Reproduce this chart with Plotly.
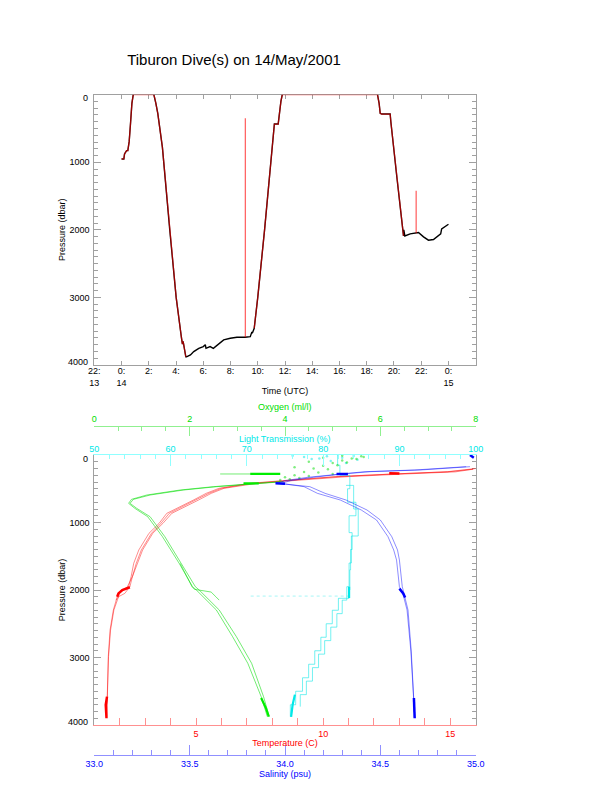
import plotly.graph_objects as go

W, H = 612, 785
OFF = 8  # page body margin in the browser
def px(x): return (x - OFF) / W
def py(y): return 1 - (y - OFF) / H

# ---------------- top plot: dive pressure vs time (hours after 00:00 14 May) ----------------
time_ticks = [-2, 0, 2, 4, 6, 8, 10, 12, 14, 16, 18, 20, 22, 24]
time_labels = ["22:<br>13", "0:<br>14", "2:", "4:", "6:", "8:", "10:", "12:", "14:", "16:", "18:", "20:", "22:", "0:<br>15"]
p_ticks = [0, 1000, 2000, 3000, 4000]
p_labels = ["", "1000", "2000", "3000", ""]   # end labels drawn nudged inward, as in the original

# vehicle pressure (black)
veh_t = [0.0, 0.17, 0.22, 0.37, 0.46, 0.56, 0.66, 0.76, 0.86, None,
         2.37, 2.45, 2.52, 2.66, 3.0, 3.54, 4.01, 4.4, 4.47, 4.52, 4.6, 4.72,
         4.77, 5.06, 5.3, 5.67, 6.0, 6.15, 6.2, 6.5, 6.74, 7.0, 7.2, 7.5, 7.98, 8.47, 9.08, 9.45, 9.57, 9.6, 9.74,
         10.0, 10.5, 11.0, 11.22, 11.5, 11.56, 11.7, 11.8, None,
         18.79, 18.91, 18.99, 19.1, 19.72, 19.77, 20.2, 20.65, 20.7, 20.72, 20.8, 21.19, 21.63, 21.8,
         22.17, 22.53, 22.9, 23.14, 23.43, 23.5, 23.75, 24.0]
veh_p = [951, 951, 877, 828, 828, 695, 423, 128, 0, None,
         0, 60, 128, 276, 780, 2000, 3000, 3600, 3690, 3650, 3760, 3880,
         3880, 3851, 3802, 3753, 3727, 3700, 3753, 3727, 3753, 3710, 3668, 3629, 3604, 3589, 3589, 3580, 3510, 3530, 3456,
         3000, 2000, 960, 434, 434, 300, 100, 0, None,
         0, 128, 276, 286, 286, 400, 1200, 2001, 2090, 2000, 2090, 2060, 2050, 2040,
         2104, 2153, 2143, 2104, 2060, 1986, 1952, 1917]

# second pressure record (red): surface periods, transits and spikes
ctd_t = [0.0, 0.17, 0.22, 0.37, 0.46, 0.56, 0.66, 0.76, 0.86, 2.37, 2.45, 2.52, 2.66, 3.0, 3.54, 4.01, 4.4, 4.47, 4.52, 4.6, 4.72, None,
         9.09, 9.09, None,
         9.74, 10.0, 10.5, 11.0, 11.22, 11.5, 11.56, 11.7, 11.8, 18.79, 18.91, 18.99, 19.1, 19.72, 19.77, 20.2, 20.65, 20.7, None,
         21.63, 21.63]
ctd_p = [951, 951, 877, 828, 828, 695, 423, 128, 0, 0, 60, 128, 276, 780, 2000, 3000, 3600, 3690, 3650, 3760, 3880, None,
         3589, 349, None,
         3456, 3000, 2000, 960, 434, 434, 300, 100, 0, 0, 128, 276, 286, 286, 400, 1200, 2001, 2090, None,
         2050, 1420]

# ---------------- bottom plot: profiles ----------------
temp_p_a = [210, 250, 280, 320, 380, 420, 494, 568, 667, 765, 864, 1012, 1160, 1407, 1605, 1800, 1951, 2000, 2050, 2296, 2593, 2988, 3580, 3877]
temp_a   = [15.9, 14.9, 12.8, 10.5, 8.4, 7.1, 5.9, 5.4, 4.9, 4.4, 3.85, 3.55, 3.15, 2.75, 2.55, 2.45, 2.35, 2.1, 1.94, 1.75, 1.62, 1.55, 1.51, 1.49]
temp_b   = [15.9, 15.2, 13.3, 11.0, 8.8, 7.4, 6.1, 5.6, 5.1, 4.6, 4.05, 3.7, 3.3, 2.9, 2.7, 2.5, 2.3, 2.15, 2.0, 1.77, 1.64, 1.56, 1.51, 1.49]
temp_p_c = [200, 247, 281, 320, 420, 494, 568, 667, 765, 864, 1012, 1160, 1407, 1605, 1800, 1951, 2050, 2100, 2150]
temp_c   = [16.0, 14.9, 12.8, 10.6, 7.2, 6.0, 5.5, 5.0, 4.5, 3.95, 3.62, 3.25, 2.85, 2.65, 2.5, 2.4, 2.2, 1.95, 1.85]
temp_blob_p = [270, 275, None, 1960, 2000, 2050, 2100, None, 3580, 3700, 3900]
temp_blob   = [12.6, 13.0, None, 2.4, 2.1, 1.95, 1.9, None, 1.5, 1.45, 1.48]

sal_p_a = [173, 222, 247, 281, 330, 380, 420, 469, 568, 667, 815, 963, 1210, 1407, 1556, 1951, 2074, 2296, 2904, 3580, 3877]
sal_a   = [34.97, 34.71, 34.45, 34.30, 34.15, 34.03, 33.98, 34.10, 34.17, 34.29, 34.40, 34.48, 34.54, 34.57, 34.585, 34.60, 34.62, 34.64, 34.66, 34.676, 34.68]
sal_b   = [34.95, 34.68, 34.42, 34.28, 34.12, 34.00, 33.96, 34.13, 34.21, 34.32, 34.43, 34.50, 34.56, 34.59, 34.60, 34.615, 34.625, 34.645, 34.662, 34.677, 34.68]
sal_blob_p = [0, 40, None, 281, 281, None, 420, 425, None, 1980, 2050, 2110, None, 3600, 3900]
sal_blob   = [34.97, 34.99, None, 34.27, 34.33, None, 33.95, 34.0, None, 34.6, 34.62, 34.63, None, 34.676, 34.68]

oxy_p_a = [395, 430, 469, 519, 593, 657, 716, 790, 914, 1210, 1605, 1951, 2000, 2296, 2691, 3086, 3580, 3877]
oxy_a   = [3.97, 3.27, 2.57, 1.87, 1.17, 0.82, 0.75, 0.89, 1.17, 1.48, 1.82, 2.12, 2.2, 2.62, 2.98, 3.3, 3.55, 3.67]
oxy_b   = [3.9, 3.2, 2.5, 1.8, 1.1, 0.78, 0.72, 0.85, 1.12, 1.43, 1.78, 2.06, 2.14, 2.56, 2.9, 3.22, 3.5, 3.63]
oxy_p_c = [1605, 1800, 1951, 1990, 2030, 2100, 2150]
oxy_c   = [1.8, 1.95, 2.05, 2.1, 2.45, 2.55, 2.62]
oxy_blob_p = [281, 281, None, 420, 420, None, 3600, 3750, 3877]
oxy_blob   = [3.27, 3.9, None, 3.13, 3.45, None, 3.5, 3.6, 3.66]
oxy_line_p = [281, 281]
oxy_line   = [2.64, 3.27]
oxy_surf_p = [330, 300, 250, 200, 160, 120, 80, 50, 20, 60, 110, 150, 210, 260, 310, 340, 360, 370, 100, 40, 280, 180, 10, 30]
oxy_surf   = [4.0, 4.2, 4.4, 4.6, 4.8, 5.0, 5.2, 5.4, 5.6, 5.5, 5.3, 5.1, 4.9, 4.7, 4.5, 4.3, 4.1, 3.9, 4.5, 4.8, 5.0, 4.2, 5.2, 5.65]

lt_p_a = [3877, 3700, 3500, 3300, 3100, 2900, 2700, 2500, 2300, 2123, 2000, 1700, 1400, 1150, 900, 700, 500, 300, 150, 0]
lt_a   = [75.7, 76.4, 77.3, 78.1, 78.9, 79.7, 80.4, 81.2, 82.0, 83.4, 83.5, 83.6, 83.8, 83.4, 84.3, 83.2, 83.5, 82.2, 81.9, 82.0]
lt_p_b = [3728, 3550, 3350, 3150, 2950, 2750, 2550, 2350, 2150, 1951, 1600, 1200, 800, 450]
lt_b   = [77.0, 77.8, 78.6, 79.4, 80.2, 81.0, 81.8, 82.5, 83.1, 83.4, 83.7, 84.6, 84.0, 83.0]
lt_band_p = [2090, 2090]
lt_band   = [70.5, 83.4]
lt_blob_p = [3880, 3700, 3550, None, 2120, 1950]
lt_blob   = [75.8, 76.0, 76.3, None, 83.4, 83.4]
lt_surf_p = [10, 30, 60, 20, 90, 40, 120, 15, 70, 50]
lt_surf   = [76.0, 77.5, 78.5, 80.5, 81.0, 82.5, 83.0, 84.0, 84.5, 79.5]

fig = go.Figure()

# top plot
fig.add_trace(go.Scatter(x=veh_t, y=veh_p, mode="lines", line=dict(color="black", width=1.4),
                         xaxis="x", yaxis="y", connectgaps=False))
fig.add_trace(go.Scatter(x=ctd_t, y=ctd_p, mode="lines", line=dict(color="rgba(255,0,0,0.6)", width=1.3),
                         xaxis="x", yaxis="y", connectgaps=False))

# bottom plot
RED_L = "rgba(255,0,0,0.45)"
BLU_L = "rgba(0,0,255,0.45)"
GRN_L = "rgba(0,220,0,0.55)"
CYN_L = "rgba(0,230,230,0.55)"

for xs, ys in [(temp_a, temp_p_a), (temp_b, temp_p_a), (temp_c, temp_p_c)]:
    fig.add_trace(go.Scatter(x=xs, y=ys, mode="lines", line=dict(color=RED_L, width=1), xaxis="x2", yaxis="y2"))
fig.add_trace(go.Scatter(x=temp_blob, y=temp_blob_p, mode="lines", line=dict(color="red", width=2.5), xaxis="x2", yaxis="y2"))

for xs, ys in [(lt_a, lt_p_a), (lt_b, lt_p_b)]:
    fig.add_trace(go.Scatter(x=xs, y=ys, mode="lines", line=dict(color=CYN_L, width=1, shape="vh"), xaxis="x3", yaxis="y2"))
fig.add_trace(go.Scatter(x=lt_band, y=lt_band_p, mode="lines", line=dict(color="rgba(0,230,230,0.35)", width=1, dash="dot"), xaxis="x3", yaxis="y2"))
fig.add_trace(go.Scatter(x=lt_blob, y=lt_blob_p, mode="lines", line=dict(color="#00e8e8", width=2.2), xaxis="x3", yaxis="y2"))
fig.add_trace(go.Scatter(x=lt_surf, y=lt_surf_p, mode="markers", marker=dict(color="rgba(0,230,230,0.5)", size=2.5), xaxis="x3", yaxis="y2"))

for xs, ys in [(oxy_a, oxy_p_a), (oxy_b, oxy_p_a), (oxy_c, oxy_p_c), (oxy_line, oxy_line_p)]:
    fig.add_trace(go.Scatter(x=xs, y=ys, mode="lines", line=dict(color=GRN_L, width=1), xaxis="x4", yaxis="y2"))
fig.add_trace(go.Scatter(x=oxy_blob, y=oxy_blob_p, mode="lines", line=dict(color="#00ee00", width=2.2), xaxis="x4", yaxis="y2"))
fig.add_trace(go.Scatter(x=oxy_surf, y=oxy_surf_p, mode="markers", marker=dict(color="rgba(0,220,0,0.5)", size=2.5), xaxis="x4", yaxis="y2"))

for xs in [sal_a, sal_b]:
    fig.add_trace(go.Scatter(x=xs, y=sal_p_a, mode="lines", line=dict(color=BLU_L, width=1), xaxis="x5", yaxis="y2"))
fig.add_trace(go.Scatter(x=sal_blob, y=sal_blob_p, mode="lines", line=dict(color="blue", width=2.5), xaxis="x5", yaxis="y2"))

FONT = "Liberation Sans"
tf = dict(family=FONT, size=9, color="black")
GRAY = "#a0a0a0"
x_dom = [px(94.3), px(475.7)]
CYAN_T = "#00e8e8"
GREEN_T = "#00dd00"

def p_axis(dom, anchor):
    return dict(domain=dom, anchor=anchor, range=[4000, 0], tickmode="array", tickvals=p_ticks, ticktext=p_labels,
                ticks="inside", ticklen=7, tickcolor=GRAY, showline=True, linecolor=GRAY, mirror="ticks",
                minor=dict(ticks="inside", ticklen=3.5, dtick=100, tick0=0, tickcolor=GRAY, showgrid=False),
                showgrid=False, zeroline=False, tickfont=tf, automargin=False, layer="below traces",
                ticklabelstandoff=2,
                title=dict(text="Pressure (dbar)", font=tf, standoff=2))

def end_label(text, y_px):
    return dict(text=text, x=px(89.5), y=py(y_px), xref="paper", yref="paper", xanchor="right", yanchor="middle",
                showarrow=False, font=tf)

fig.update_layout(
    template="none",
    width=W, height=H, margin=dict(l=0, r=0, t=0, b=0, autoexpand=False),
    paper_bgcolor="white", plot_bgcolor="white", showlegend=False,
    font=dict(family=FONT, size=9, color="black"),
    title=dict(text="Tiburon Dive(s) on 14/May/2001", x=px(234), y=py(60), xref="paper", yref="paper",
               xanchor="center", yanchor="middle", automargin=False, font=dict(family=FONT, size=15, color="black")),
    xaxis=dict(domain=x_dom, anchor="y", range=[-2, 26], tickmode="array", tickvals=time_ticks, ticktext=time_labels,
               ticks="inside", ticklen=4, tickcolor=GRAY, showline=True, linecolor=GRAY, linewidth=1, mirror="ticks",
               showgrid=False, zeroline=False, tickfont=tf, automargin=False, ticklabelstandoff=-3,
               layer="below traces",
               title=dict(text="Time (UTC)", font=tf, standoff=1)),
    yaxis=p_axis([py(365), py(94.7)], "x"),
    xaxis2=dict(domain=x_dom, anchor="y2", side="bottom", range=[1, 16], dtick=5, tick0=0,
                ticks="inside", ticklen=7, tickcolor="#ff9090", showline=True, linecolor="#ff9090",
                minor=dict(ticks="inside", ticklen=7, dtick=1, tickcolor="#ff9090", showgrid=False),
                showgrid=False, zeroline=False, tickfont=dict(family=FONT, size=9, color="red"), automargin=False,
                title=dict(text="Temperature (C)", font=dict(family=FONT, size=9, color="red"), standoff=1)),
    yaxis2=p_axis([py(725), py(455)], "x2"),
    xaxis3=dict(overlaying="x2", anchor="y2", side="top", range=[50, 100], dtick=10, tick0=0,
                ticks="inside", ticklen=11, tickcolor="#90ffff", showline=True, linecolor="#90ffff",
                minor=dict(ticks="inside", ticklen=4, dtick=2, tickcolor="#90ffff", showgrid=False),
                showgrid=False, zeroline=False, tickfont=dict(family=FONT, size=9, color=CYAN_T), automargin=False,
                ticklabelstandoff=-2),
    xaxis4=dict(overlaying="x2", anchor="free", position=py(425.7), side="top", range=[0, 8], dtick=2, tick0=0,
                ticks="inside", ticklen=9, tickcolor="#90f090", showline=True, linecolor="#90f090",
                minor=dict(ticks="inside", ticklen=4.5, dtick=0.5, tickcolor="#90f090", showgrid=False),
                showgrid=False, zeroline=False, tickfont=dict(family=FONT, size=9, color=GREEN_T), automargin=False),
    xaxis5=dict(overlaying="x2", anchor="free", position=py(755), side="bottom", range=[33, 35], dtick=0.5, tick0=0,
                tickformat=".1f",
                ticks="inside", ticklen=10, tickcolor="#9090ff", showline=True, linecolor="#9090ff",
                minor=dict(ticks="inside", ticklen=5, dtick=0.1, tickcolor="#9090ff", showgrid=False),
                showgrid=False, zeroline=False, tickfont=dict(family=FONT, size=9, color="blue"), automargin=False,
                title=dict(text="Salinity (psu)", font=dict(family=FONT, size=9, color="blue"), standoff=0)),
    annotations=[
        dict(text="Light Transmission (%)", x=px(285), y=py(439), xref="paper", yref="paper",
             xanchor="center", yanchor="middle", showarrow=False, font=dict(family=FONT, size=9, color=CYAN_T)),
        dict(text="Oxygen (ml/l)", x=px(285), y=py(407), xref="paper", yref="paper",
             xanchor="center", yanchor="middle", showarrow=False, font=dict(family=FONT, size=9, color=GREEN_T)),
        end_label("0", 98),
        end_label("4000", 361.5),
        end_label("0", 458.5),
        end_label("4000", 721.5),
    ],
)

fig.write_html("out.html")
